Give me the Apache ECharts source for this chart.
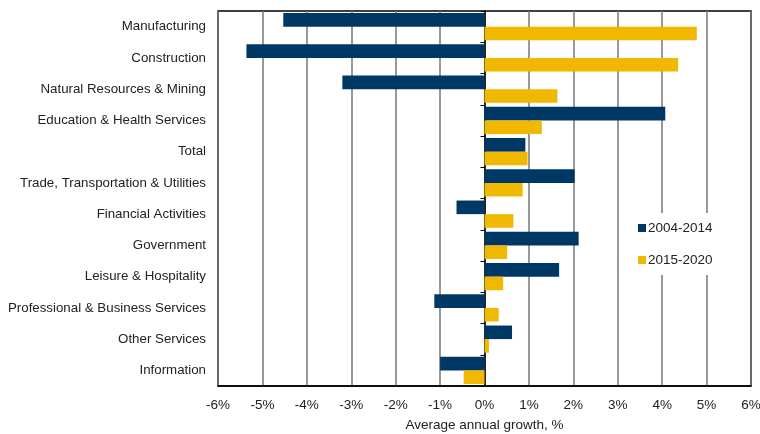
<!DOCTYPE html>
<html>
<head>
<meta charset="utf-8">
<script src="https://cdn.jsdelivr.net/npm/echarts@6/dist/echarts.min.js"></script>
<style>
  html, body { margin: 0; padding: 0; background: #fff; }
  #chart { width: 760px; height: 434px; }
</style>
</head>
<body>
<div id="chart"></div>
<script>
// top to bottom as shown
const categories = ['Manufacturing', 'Construction', 'Natural Resources & Mining', 'Education & Health Services',
  'Total', 'Trade, Transportation & Utilities', 'Financial Activities', 'Government',
  'Leisure & Hospitality', 'Professional & Business Services', 'Other Services', 'Information']
const growth0414 = [-4.53, -5.36, -3.2, 4.07, 0.92, 2.03, -0.63, 2.12, 1.68, -1.13, 0.62, -1.0]
const growth1520 = [4.78, 4.36, 1.64, 1.29, 0.97, 0.86, 0.65, 0.51, 0.42, 0.32, 0.1, -0.47]
const xTicks = [-6, -5, -4, -3, -2, -1, 0, 1, 2, 3, 4, 5, 6]

const font = 'Helvetica, "Liberation Sans", Arial, sans-serif'
const chart = echarts.init(document.getElementById('chart'))

const option = {
  animation: false,
  textStyle: { fontFamily: font },
  grid: {
    left: 218, right: 9, top: 11, bottom: 48,
    outerBoundsMode: 'none',
    show: true, borderColor: '#000', borderWidth: 1.5, backgroundColor: 'transparent'
  },
  legend: {
    orient: 'vertical',
    left: 634, top: 213,
    itemWidth: 8, itemHeight: 8, itemGap: 18,
    icon: 'rect',
    backgroundColor: '#fff',
    padding: [8, 30, 8, 4],
    textStyle: { fontSize: 13.5, color: '#222', padding: [0, 0, 0, -3] },
    data: ['2004-2014', '2015-2020']
  },
  xAxis: {
    type: 'value',
    min: xTicks[0], max: xTicks[xTicks.length - 1], interval: 1,
    name: 'Average annual growth, %',
    nameLocation: 'middle', nameGap: 32,
    nameTextStyle: { fontSize: 13.5, color: '#222' },
    axisLine: { show: true, lineStyle: { color: '#000', width: 1.5 } },
    axisTick: { show: false },
    axisLabel: { fontSize: 13.5, color: '#222', margin: 12, formatter: v => v + '%' },
    splitLine: { show: true, lineStyle: { color: '#777', width: 1.5 } }
  },
  yAxis: [
    {
      type: 'category', inverse: true, data: categories,
      axisLine: { show: false, onZero: false }, axisTick: { show: false },
      axisLabel: { fontSize: 13.3, color: '#222', margin: 12, padding: [2, 0, 0, 0] }
    },
    {
      // zero line with category ticks
      type: 'category', inverse: true, data: categories, position: 'left',
      axisLine: { show: true, onZero: true, lineStyle: { color: '#000', width: 1.5 } },
      axisTick: { show: true, length: 4, lineStyle: { color: '#000' } },
      axisLabel: { show: false }
    }
  ],
  series: [
    {
      name: '2004-2014', type: 'bar', data: growth0414,
      barGap: '0%', barCategoryGap: '13%',
      itemStyle: { color: '#003865' }
    },
    {
      name: '2015-2020', type: 'bar', data: growth1520,
      itemStyle: { color: '#F0B800' }
    }
  ]
}

chart.setOption(option)
</script>
</body>
</html>
